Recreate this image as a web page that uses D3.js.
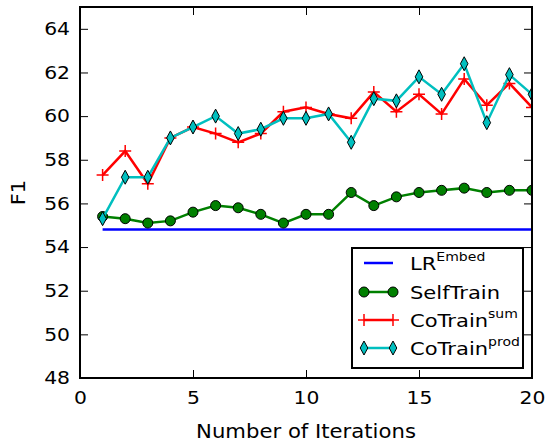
<!DOCTYPE html>
<html>
<head>
<meta charset="utf-8">
<script src="https://cdn.jsdelivr.net/npm/d3@7"></script>
<style>
  body { margin: 0; background: #fff; }
  text { font-family: "DejaVu Sans", sans-serif; fill: #000; }
</style>
</head>
<body>
<div id="chart"></div>
<script>
// values
const iterations = d3.range(1, 21);
const lrEmbed = [54.8, 54.8];
const lrEmbedX = [1, 20];
const selfTrain = [55.4, 55.3, 55.1, 55.2, 55.6, 55.9, 55.8, 55.5, 55.1, 55.5,
                   55.5, 56.5, 55.9, 56.3, 56.5, 56.6, 56.7, 56.5, 56.6, 56.6];
const coTrainSum = [57.3, 58.4, 56.9, 59.0, 59.5, 59.2, 58.8, 59.2, 60.2, 60.4,
                    60.1, 59.9, 61.1, 60.2, 61.0, 60.1, 61.7, 60.5, 61.5, 60.4];
const coTrainProd = [55.3, 57.2, 57.2, 59.0, 59.5, 60.0, 59.2, 59.4, 59.9, 59.9,
                     60.1, 58.8, 60.8, 60.7, 61.8, 61.0, 62.4, 59.7, 61.9, 61.0];
const xTicks = [0, 5, 10, 15, 20];
const yTicks = [48, 50, 52, 54, 56, 58, 60, 62, 64];

width = 546;
height = 443;
const margin = {left: 80, right: 14, top: 7, bottom: 65};

const svg = d3.select("#chart")
    .append("svg")
        .attr("width", width)
        .attr("height", height)

const x = d3.scaleLinear().domain([0, 20]).range([margin.left, width - margin.right]);
const y = d3.scaleLinear().domain([48, 65]).range([height - margin.bottom, margin.top]);

// the picture's text is a bit wider than plain DejaVu, stretch it sideways
function stretch(sel, sx, ax) {
    sel.attr("transform", `translate(${ax},0) scale(${sx},1) translate(${-ax},0)`);
}

svg.append("clipPath").attr("id", "plotclip")
    .append("rect")
    .attr("x", x(0)).attr("y", y(65))
    .attr("width", x(20) - x(0)).attr("height", y(48) - y(65));

// ticks on all four sides, pointing in
const tickLen = 8;
const xAxis = svg.append("g")
    .attr("transform", `translate(0,${y(48)})`)
    .call(d3.axisBottom(x).tickValues(xTicks).tickSize(-tickLen).tickPadding(13))
    .call(g => g.select(".domain").remove());
svg.append("g")
    .attr("transform", `translate(0,${y(65)})`)
    .call(d3.axisTop(x).tickValues(xTicks).tickSize(-tickLen).tickFormat(""))
    .call(g => g.select(".domain").remove());
const yAxis = svg.append("g")
    .attr("transform", `translate(${x(0)},0)`)
    .call(d3.axisLeft(y).tickValues(yTicks).tickSize(-tickLen).tickPadding(10))
    .call(g => g.select(".domain").remove());
svg.append("g")
    .attr("transform", `translate(${x(20)},0)`)
    .call(d3.axisRight(y).tickValues(yTicks).tickSize(-tickLen).tickFormat(""))
    .call(g => g.select(".domain").remove());

svg.selectAll(".tick line").attr("stroke", "#000").attr("stroke-width", 1);
svg.selectAll(".tick text")
    .style("font-family", "DejaVu Sans")
    .style("font-size", "18px");
xAxis.selectAll(".tick text").each(function() { stretch(d3.select(this), 1.13, 0) });
yAxis.selectAll(".tick text").each(function() { stretch(d3.select(this), 1.13, -10) });

const plot = svg.append("g").attr("clip-path", "url(#plotclip)");

const line = d3.line()
    .x(function(d) {return x(d[0])})
    .y(function(d) {return y(d[1])})

// LR embed
plot.append("path")
    .datum(lrEmbedX.map((v, i) => [v, lrEmbed[i]]))
    .attr("d", line)
    .attr("fill", "none")
    .attr("stroke", "#0000ff")
    .attr("stroke-width", 2.5);

// SelfTrain
const selfData = iterations.map((v, i) => [v, selfTrain[i]]);
plot.append("path")
    .datum(selfData)
    .attr("d", line)
    .attr("fill", "none")
    .attr("stroke", "#008000")
    .attr("stroke-width", 2.5);
plot.selectAll("circle.self")
    .data(selfData)
    .join("circle")
        .attr("class", "self")
        .attr("cx", d => x(d[0]))
        .attr("cy", d => y(d[1]))
        .attr("r", 5)
        .attr("fill", "#008000")
        .attr("stroke", "#000")
        .attr("stroke-width", 1);

// CoTrain sum
const sumData = iterations.map((v, i) => [v, coTrainSum[i]]);
plot.append("path")
    .datum(sumData)
    .attr("d", line)
    .attr("fill", "none")
    .attr("stroke", "#ff0000")
    .attr("stroke-width", 2.5);
const plus = "M-6,0H6M0,-6V6";
plot.selectAll("path.sum")
    .data(sumData)
    .join("path")
        .attr("class", "sum")
        .attr("d", plus)
        .attr("transform", d => `translate(${x(d[0])},${y(d[1])})`)
        .attr("stroke", "#ff0000")
        .attr("stroke-width", 1.5);

// CoTrain prod
const prodData = iterations.map((v, i) => [v, coTrainProd[i]]);
plot.append("path")
    .datum(prodData)
    .attr("d", line)
    .attr("fill", "none")
    .attr("stroke", "#00bfbf")
    .attr("stroke-width", 2.5);
const diamond = "M0,-7L3.8,0L0,7L-3.8,0Z";
plot.selectAll("path.prod")
    .data(prodData)
    .join("path")
        .attr("class", "prod")
        .attr("d", diamond)
        .attr("transform", d => `translate(${x(d[0])},${y(d[1])})`)
        .attr("fill", "#00bfbf")
        .attr("stroke", "#000")
        .attr("stroke-width", 1);

// frame
svg.append("rect")
    .attr("x", x(0)).attr("y", y(65))
    .attr("width", x(20) - x(0)).attr("height", y(48) - y(65))
    .attr("fill", "none")
    .attr("stroke", "#000")
    .attr("stroke-width", 2);

// axis labels
const xLabel = svg.append("text")
    .attr("x", (x(0) + x(20)) / 2)
    .attr("y", 438)
    .attr("text-anchor", "middle")
    .style("font-size", "20px")
    .text("Number of Iterations");
stretch(xLabel, 1.06, (x(0) + x(20)) / 2);
svg.append("text")
    .attr("transform", `translate(25,${(y(48) + y(65)) / 2}) rotate(-90) scale(1.05,1)`)
    .attr("text-anchor", "middle")
    .style("font-size", "20px")
    .text("F1");

// legend
const legend = svg.append("g");
legend.append("rect")
    .attr("x", 352).attr("y", 248)
    .attr("width", 171).attr("height", 120)
    .attr("fill", "#fff")
    .attr("stroke", "#000")
    .attr("stroke-width", 2);

const entries = [
    {name: "LR", sup: "Embed", color: "#0000ff", marker: null},
    {name: "SelfTrain", sup: "", color: "#008000", marker: "circle"},
    {name: "CoTrain", sup: "sum", color: "#ff0000", marker: "plus"},
    {name: "CoTrain", sup: "prod", color: "#00bfbf", marker: "diamond"}
];
const rowY = [263, 292, 320, 348];
entries.forEach(function(e, i) {
    const ly = rowY[i];
    legend.append("line")
        .attr("x1", 364).attr("x2", 393)
        .attr("y1", ly).attr("y2", ly)
        .attr("stroke", e.color)
        .attr("stroke-width", 2.5);
    [364, 393].forEach(function(mx) {
        if (e.marker === "circle") {
            legend.append("circle").attr("cx", mx).attr("cy", ly).attr("r", 5)
                .attr("fill", e.color).attr("stroke", "#000");
        } else if (e.marker === "plus") {
            legend.append("path").attr("d", plus)
                .attr("transform", `translate(${mx},${ly})`)
                .attr("stroke", e.color).attr("stroke-width", 1.5);
        } else if (e.marker === "diamond") {
            legend.append("path").attr("d", diamond)
                .attr("transform", `translate(${mx},${ly})`)
                .attr("fill", e.color).attr("stroke", "#000");
        }
    });
    const t = legend.append("text")
        .attr("x", 410)
        .attr("y", ly + 7)
        .style("font-size", "18px");
    t.append("tspan").text(e.name);
    if (e.sup) {
        t.append("tspan")
            .attr("dy", -9)
            .style("font-size", "12px")
            .text(e.sup);
    }
    stretch(t, 1.17, 410);
});
</script>
</body>
</html>
